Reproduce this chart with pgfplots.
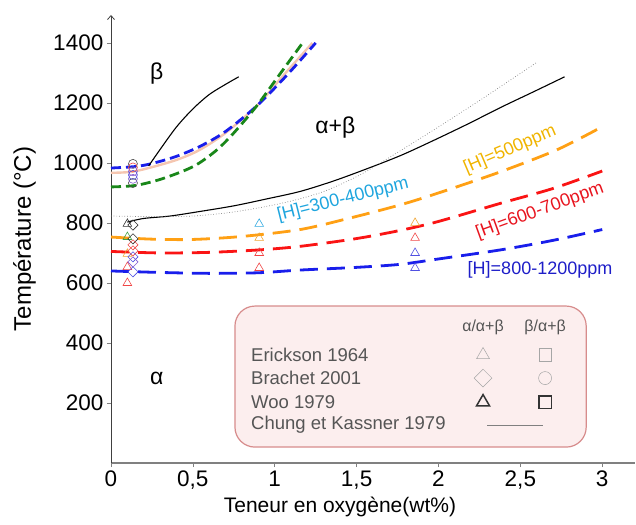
\documentclass[border=0pt]{standalone}
\usepackage{fontspec}
\setmainfont{Liberation Sans}
\usepackage{pgfplots}
\pgfplotsset{compat=1.18}
\usetikzlibrary{arrows.meta}
\definecolor{bdash}{RGB}{25,30,235}
\definecolor{gdash}{RGB}{25,135,25}
\definecolor{salmon}{RGB}{245,198,176}
\definecolor{odash}{RGB}{255,160,20}
\definecolor{rdash}{RGB}{250,20,20}
\definecolor{cyantxt}{RGB}{30,165,222}
\definecolor{otxt}{RGB}{240,180,0}
\definecolor{rtxt}{RGB}{232,20,30}
\definecolor{btxt}{RGB}{30,30,200}
\definecolor{mred}{RGB}{240,70,70}
\definecolor{mblue}{RGB}{80,80,225}
\definecolor{mpurp}{RGB}{130,90,210}
\definecolor{morange}{RGB}{240,165,50}
\definecolor{mgreen}{RGB}{70,160,70}
\definecolor{mcyan}{RGB}{50,170,225}
\definecolor{legfill}{RGB}{252,238,238}
\definecolor{legdraw}{RGB}{215,140,140}
\definecolor{legtxt}{RGB}{85,85,85}
\begin{document}
\begin{tikzpicture}
\useasboundingbox (-111bp,-62bp) rectangle (525bp,463bp);
\begin{axis}[
  at={(0,0)}, anchor=south west,
  scale only axis, width=524bp, height=448bp,
  xmin=0, xmax=3.2, ymin=0, ymax=1493,
  axis x line*=bottom, axis y line*=left,
  x axis line style={-, gray, line width=1.2bp},
  y axis line style={-{Straight Barb[length=4bp,width=7bp]}, black!75, line width=0.8bp},
  xtick={0,0.5,1,1.5,2,2.5,3},
  xticklabels={0,{0,5},1,{1,5},2,{2,5},3},
  ytick={200,400,600,800,1000,1200,1400},
  yticklabels={200,400,600,800,1000,1200,1400},
  tick align=outside, major tick length=4bp,
  tick style={gray, line width=0.6bp},
  ticklabel style={font=\fontsize{22.5bp}{23bp}\selectfont},
  yticklabel style={inner sep=2.5bp, xshift=-1bp},
  xticklabel style={inner sep=2.5bp, yshift=-1bp},
  xlabel={Teneur en oxygène(wt\%)},
  xlabel style={at={(axis description cs:0.437,0)}, anchor=center, yshift=-44bp, font=\fontsize{21bp}{22bp}\selectfont},
  ylabel={Température (°C)},
  ylabel style={at={(axis description cs:-0.165,0.5)}, anchor=center, font=\fontsize{24bp}{25bp}\selectfont},
  clip=false,
]
% legend box
\draw[rounded corners=20bp, fill=legfill, draw=legdraw, line width=1.2bp] (axis cs:0.757,523) rectangle (axis cs:2.902,53);

% beta transus curves
\addplot[salmon, line width=2.4bp, smooth] coordinates {(0,967)(0.12,970)(0.23,983)(0.4,1010)(0.54,1043)(0.7,1100)(0.89,1190)(1.05,1290)(1.23,1400)};
\addplot[bdash, line width=2.8bp, dash pattern=on 10bp off 5bp, smooth] coordinates {(0,983)(0.15,988)(0.25,998)(0.4,1022)(0.55,1057)(0.7,1105)(0.89,1190)(1.07,1290)(1.25,1400)};
\addplot[gdash, line width=2.8bp, dash pattern=on 10bp off 5bp, smooth] coordinates {(0,920)(0.15,925)(0.3,945)(0.45,975)(0.54,1000)(0.65,1045)(0.75,1100)(0.89,1190)(1.03,1295)(1.17,1400)};
\addplot[black, line width=1.1bp, smooth] coordinates {(0.23,990)(0.3,1045)(0.4,1120)(0.5,1180)(0.6,1228)(0.7,1262)(0.78,1287)};
% alpha / alpha+beta
\addplot[black, line width=1.1bp, smooth] coordinates {(0.1,803)(0.2,815)(0.36,823)(0.54,838)(0.75,857)(0.95,880)(1.155,905)(1.36,940)(1.56,980)(1.77,1025)(1.97,1075)(2.18,1130)(2.38,1185)(2.58,1237)(2.77,1287)};
\addplot[gray, line width=0.7bp, dotted, smooth] coordinates {(0,823)(0.3,821)(0.5,823)(0.7,833)(0.9,850)(1.1,873)(1.3,905)(1.52,960)(1.75,1035)(2.0,1120)(2.27,1215)(2.6,1335)};
% hydrogen curves
\addplot[odash, line width=2.8bp, dash pattern=on 18bp off 9bp, smooth] coordinates {(0,753)(0.25,746)(0.5,745)(0.8,755)(1.155,778)(1.45,815)(1.765,860)(2.0,900)(2.376,970)(2.72,1043)(2.97,1112)};
\addplot[rdash, line width=2.8bp, dash pattern=on 18bp off 9bp, smooth] coordinates {(0,705)(0.3,700)(0.6,702)(0.9,710)(1.155,722)(1.5,748)(1.765,775)(2.0,805)(2.376,865)(2.7,915)(3.0,973)};
\addplot[bdash, line width=2.8bp, dash pattern=on 18bp off 9bp, smooth] coordinates {(0,640)(0.3,635)(0.6,632)(0.9,634)(1.155,643)(1.5,652)(1.765,662)(2.0,680)(2.376,710)(2.7,742)(3.0,778)};

% markers
\addplot[only marks, mark=triangle, mark size=5bp, mark options={draw=black!80, line width=0.6bp}] coordinates {(0.1,797)};
\addplot[only marks, mark=triangle, mark size=5bp, mark options={draw=mgreen, line width=0.6bp}] coordinates {(0.1,753)};
\addplot[only marks, mark=triangle, mark size=5bp, mark options={draw=morange, line width=0.6bp}] coordinates {(0.1,697)(0.905,750)(1.857,800)};
\addplot[only marks, mark=triangle, mark size=5bp, mark options={draw=mred, line width=0.6bp}] coordinates {(0.1,653)(0.1,600)(0.905,700)(0.905,650)(1.857,750)};
\addplot[only marks, mark=triangle, mark size=5bp, mark options={draw=mcyan, line width=0.6bp}] coordinates {(0.905,797)};
\addplot[only marks, mark=triangle, mark size=5bp, mark options={draw=mblue, line width=0.6bp}] coordinates {(1.857,700)(1.857,650)};
\addplot[only marks, mark=square, mark size=3.6bp, mark options={rotate=45, draw=black!80, line width=0.6bp}] coordinates {(0.134,793)(0.134,747)};
\addplot[only marks, mark=square, mark size=3.6bp, mark options={rotate=45, draw=mred, line width=0.6bp}] coordinates {(0.134,727)(0.134,707)};
\addplot[only marks, mark=square, mark size=3.6bp, mark options={rotate=45, draw=mblue, line width=0.6bp}] coordinates {(0.134,687)(0.134,637)};
\addplot[only marks, mark=square, mark size=3.6bp, mark options={rotate=45, draw=mpurp, line width=0.6bp}] coordinates {(0.134,670)};
\addplot[only marks, mark=o, mark size=4.5bp, mark options={draw=black!70, line width=0.6bp}] coordinates {(0.134,997)(0.134,933)};
\addplot[only marks, mark=o, mark size=4.5bp, mark options={draw=mred, line width=0.6bp}] coordinates {(0.134,985)};
\addplot[only marks, mark=o, mark size=4.5bp, mark options={draw=mpurp, line width=0.6bp}] coordinates {(0.134,972)(0.134,947)};
\addplot[only marks, mark=o, mark size=4.5bp, mark options={draw=mblue, line width=0.6bp}] coordinates {(0.134,960)};

% legend symbols
\addplot[only marks, mark=triangle, mark size=7.5bp, mark options={draw=gray!70, line width=0.5bp}] coordinates {(2.272,360)};
\addplot[only marks, mark=square, mark size=6.3bp, mark options={draw=gray!70, line width=0.5bp}] coordinates {(2.651,360)};
\addplot[only marks, mark=square, mark size=6.3bp, mark options={rotate=45, draw=gray!70, line width=0.5bp}] coordinates {(2.272,283)};
\addplot[only marks, mark=o, mark size=6.5bp, mark options={draw=gray!70, line width=0.5bp}] coordinates {(2.651,283)};
\addplot[only marks, mark=triangle, mark size=7.5bp, mark options={draw=black!80, line width=1.5bp}] coordinates {(2.272,203)};
\addplot[only marks, mark=square, mark size=6.3bp, mark options={draw=black!80, line width=1.5bp}] coordinates {(2.651,203)};
\addplot[gray, line width=0.6bp] coordinates {(2.297,127)(2.639,127)};

% legend text
\node[anchor=center, text=legtxt, font=\fontsize{16bp}{17bp}\selectfont] at (axis cs:2.272,453) {α/α+β};
\node[anchor=center, text=legtxt, font=\fontsize{16bp}{17bp}\selectfont] at (axis cs:2.651,453) {β/α+β};
\node[anchor=west, inner sep=0pt, text=legtxt, font=\fontsize{18.5bp}{19bp}\selectfont] at (axis cs:0.855,360) {Erickson 1964};
\node[anchor=west, inner sep=0pt, text=legtxt, font=\fontsize{18.5bp}{19bp}\selectfont] at (axis cs:0.855,283) {Brachet 2001};
\node[anchor=west, inner sep=0pt, text=legtxt, font=\fontsize{18.5bp}{19bp}\selectfont] at (axis cs:0.855,203) {Woo 1979};
\node[anchor=west, inner sep=0pt, text=legtxt, font=\fontsize{18.5bp}{19bp}\selectfont] at (axis cs:0.855,127) {Chung et Kassner 1979};

% region labels
\node[font=\fontsize{23bp}{24bp}\selectfont] at (axis cs:0.28,1297) {β};
\node[font=\fontsize{23bp}{24bp}\selectfont] at (axis cs:1.37,1117) {α+β};
\node[font=\fontsize{23bp}{24bp}\selectfont] at (axis cs:0.28,283) {α};

% hydrogen labels
\node[rotate=14, text=cyantxt, font=\fontsize{18bp}{19bp}\selectfont] at (axis cs:1.417,877) {[H]=300-400ppm};
\node[rotate=23, text=otxt, font=\fontsize{18bp}{19bp}\selectfont] at (axis cs:2.437,1043) {[H]=500ppm};
\node[rotate=20, text=rtxt, font=\fontsize{18bp}{19bp}\selectfont] at (axis cs:2.62,840) {[H]=600-700ppm};
\node[text=btxt, font=\fontsize{18bp}{19bp}\selectfont] at (axis cs:2.62,643) {[H]=800-1200ppm};
\end{axis}
\end{tikzpicture}
\end{document}
